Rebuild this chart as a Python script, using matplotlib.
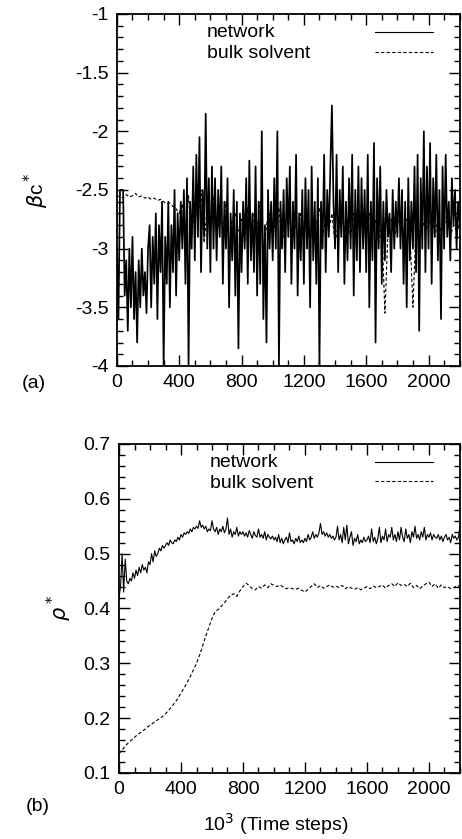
import matplotlib
matplotlib.use('Agg')
import matplotlib.pyplot as plt
import numpy as np
from matplotlib.ticker import MultipleLocator

plt.rcParams['font.family'] = ['Liberation Sans', 'DejaVu Sans']

# ---- panel (a): beta c*, sampled every 10 (network) / 20 (bulk) x 10^3 steps
t_net_a = np.arange(0, 2201, 10)
net_a = [
    -3.0, -3.6, -2.5, -2.5, -2.5, -3.4, -3.1, -3.7, -3.0, -3.5, -2.9, -3.6, -3.2, -3.8, -3.1, -3.5, -3.0, -3.4, -3.2, -3.55,
    -3.0, -2.8, -3.5, -2.9, -3.3, -2.7, -3.6, -2.8, -3.2, -2.6, -4.0, -2.9, -3.3, -2.6, -3.5, -2.8, -3.2, -2.5, -3.4, -2.7,
    -3.1, -2.6, -3.0, -2.5, -3.3, -2.4, -4.0, -2.6, -3.0, -2.3, -3.1, -2.2, -2.9, -2.05, -3.2, -2.5, -2.9, -1.85, -3.0, -2.4,
    -3.2, -2.3, -3.0, -2.4, -3.1, -2.5, -2.9, -2.3, -3.3, -2.6, -3.0, -2.4, -3.5, -2.7, -3.1, -2.5, -3.4, -2.6, -3.85, -2.7,
    -3.2, -2.6, -3.0, -2.4, -3.3, -2.25, -3.1, -2.7, -3.2, -2.3, -3.4, -2.6, -3.3, -2.0, -3.6, -2.8, -3.8, -2.5, -3.0, -2.6,
    -3.1, -2.4, -3.0, -2.0, -4.0, -2.6, -3.0, -2.5, -3.2, -2.4, -2.9, -2.3, -3.3, -2.6, -3.0, -2.2, -3.4, -2.7, -3.1, -2.5,
    -3.3, -2.4, -3.0, -2.5, -3.5, -2.3, -3.1, -2.6, -3.3, -2.4, -4.0, -2.6, -3.0, -2.2, -3.2, -2.5, -2.9, -2.3, -1.78, -2.6,
    -3.0, -2.2, -3.2, -2.5, -2.9, -2.3, -3.3, -2.6, -3.1, -2.4, -3.0, -2.2, -3.4, -2.5, -3.1, -2.3, -3.2, -2.4, -3.0, -2.5,
    -3.2, -2.2, -3.5, -2.6, -3.1, -2.1, -3.8, -2.4, -3.0, -2.3, -3.3, -2.6, -3.1, -2.5, -2.9, -2.7, -3.2, -2.5, -3.0, -2.6,
    -2.9, -2.4, -3.0, -2.5, -3.3, -2.6, -3.5, -2.4, -3.1, -2.6, -3.0, -2.3, -3.2, -2.2, -3.7, -2.4, -3.0, -2.0, -3.2, -2.3,
    -3.0, -2.1, -3.3, -2.4, -2.9, -2.2, -3.1, -2.5, -3.6, -2.3, -3.0, -2.2, -2.9, -2.6, -3.1, -2.4, -2.8, -2.5, -3.0, -2.6,
    -2.8,
]
t_bulk_a = np.arange(0, 2201, 20)
bulk_a = [
    -2.56, -2.55, -2.57, -2.54, -2.56, -2.55, -2.53, -2.56, -2.55, -2.57, -2.56, -2.58, -2.57, -2.59, -2.58, -2.60, -2.62, -2.61, -2.64, -2.66,
    -2.70, -2.62, -2.85, -2.55, -2.90, -2.60, -2.75, -2.50, -2.95, -2.65, -2.80, -2.55, -2.90, -2.70, -2.85, -2.60, -3.00, -2.75, -2.70, -2.85,
    -2.75, -2.95, -2.65, -2.90, -2.70, -2.85, -2.60, -3.05, -2.80, -2.70, -2.90, -2.75, -2.65, -2.95, -2.80, -2.70, -2.85, -2.75, -2.90, -2.70,
    -2.85, -2.70, -2.95, -2.75, -2.80, -2.65, -2.90, -2.75, -2.85, -2.70, -2.95, -2.80, -2.70, -2.85, -2.75, -2.90, -2.70, -2.85, -2.75, -2.80,
    -2.90, -2.70, -2.85, -2.75, -2.95, -2.80, -3.55, -2.85, -2.75, -2.90, -2.80, -2.70, -2.90, -2.75, -2.85, -3.50, -2.80, -2.90, -2.75, -2.85,
    -2.80, -2.70, -2.90, -2.75, -2.85, -2.80, -2.70, -2.90, -2.80, -2.85, -2.80,
]

# ---- panel (b): rho*
t_net_b = np.arange(0, 2201, 10)
net_b = [
    0.42, 0.44, 0.50, 0.43, 0.49, 0.45, 0.445, 0.455, 0.45, 0.465, 0.455, 0.47, 0.46, 0.475, 0.465, 0.48, 0.47, 0.475, 0.465, 0.485,
    0.48, 0.50, 0.485, 0.505, 0.495, 0.50, 0.51, 0.505, 0.515, 0.51, 0.515, 0.52, 0.515, 0.525, 0.52, 0.518, 0.525, 0.522, 0.53, 0.525,
    0.535, 0.53, 0.538, 0.535, 0.54, 0.537, 0.545, 0.54, 0.548, 0.545, 0.55, 0.546, 0.56, 0.548, 0.552, 0.545, 0.55, 0.54, 0.545, 0.542,
    0.56, 0.545, 0.54, 0.548, 0.535, 0.545, 0.54, 0.55, 0.538, 0.545, 0.565, 0.535, 0.545, 0.53, 0.54, 0.535, 0.548, 0.532, 0.54, 0.535,
    0.54, 0.532, 0.538, 0.53, 0.542, 0.535, 0.528, 0.54, 0.533, 0.53, 0.545, 0.53, 0.535, 0.528, 0.54, 0.525, 0.535, 0.53, 0.527, 0.532,
    0.525, 0.53, 0.522, 0.535, 0.52, 0.528, 0.518, 0.525, 0.53, 0.52, 0.538, 0.522, 0.525, 0.518, 0.528, 0.522, 0.532, 0.52, 0.525, 0.52,
    0.528, 0.522, 0.535, 0.525, 0.53, 0.54, 0.528, 0.535, 0.53, 0.538, 0.555, 0.535, 0.54, 0.532, 0.538, 0.53, 0.535, 0.528, 0.532, 0.525,
    0.53, 0.55, 0.525, 0.535, 0.52, 0.548, 0.525, 0.552, 0.518, 0.53, 0.54, 0.515, 0.528, 0.522, 0.535, 0.518, 0.525, 0.52, 0.53, 0.522,
    0.525, 0.532, 0.52, 0.545, 0.522, 0.53, 0.518, 0.528, 0.548, 0.52, 0.532, 0.525, 0.545, 0.522, 0.535, 0.53, 0.548, 0.525, 0.535, 0.522,
    0.54, 0.525, 0.548, 0.53, 0.522, 0.545, 0.528, 0.535, 0.52, 0.54, 0.53, 0.55, 0.528, 0.535, 0.525, 0.54, 0.53, 0.548, 0.525, 0.535,
    0.53, 0.538, 0.525, 0.535, 0.53, 0.528, 0.535, 0.525, 0.532, 0.522, 0.53, 0.535, 0.525, 0.53, 0.52, 0.535, 0.528, 0.532, 0.525, 0.53,
    0.55,
]
t_bulk_b = np.arange(0, 2201, 20)
bulk_b = [
    0.135, 0.142, 0.149, 0.155, 0.160, 0.165, 0.170, 0.174, 0.178, 0.183, 0.187, 0.191, 0.195, 0.199, 0.203, 0.208, 0.214, 0.221, 0.228, 0.236,
    0.246, 0.255, 0.265, 0.276, 0.288, 0.300, 0.315, 0.332, 0.350, 0.366, 0.382, 0.394, 0.398, 0.404, 0.410, 0.418, 0.424, 0.427, 0.422, 0.432,
    0.440, 0.446, 0.442, 0.436, 0.434, 0.440, 0.437, 0.443, 0.438, 0.445, 0.442, 0.440, 0.443, 0.439, 0.436, 0.438, 0.436, 0.435, 0.437, 0.433,
    0.430, 0.435, 0.440, 0.445, 0.438, 0.442, 0.437, 0.440, 0.443, 0.439, 0.441, 0.438, 0.442, 0.436, 0.440, 0.437, 0.435, 0.438, 0.434, 0.437,
    0.440, 0.436, 0.441, 0.438, 0.440, 0.443, 0.437, 0.442, 0.445, 0.440, 0.447, 0.442, 0.444, 0.440, 0.446, 0.438, 0.442, 0.436, 0.441, 0.445,
    0.448, 0.440, 0.445, 0.437, 0.443, 0.438, 0.440, 0.436, 0.438, 0.442, 0.440,
]

labels = ['network', 'bulk solvent']
FS = 14

fig = plt.figure(figsize=(4.62, 8.39), dpi=100)
ax1 = fig.add_axes([0.253, 0.5638, 0.742, 0.4196])
ax2 = fig.add_axes([0.2576, 0.0787, 0.738, 0.3921])


def style(ax, ymin, ymax, ymajor, yminor):
    ax.set_xlim(0, 2200)
    ax.set_ylim(ymin, ymax)
    ax.xaxis.set_major_locator(MultipleLocator(400))
    ax.xaxis.set_minor_locator(MultipleLocator(100))
    ax.yaxis.set_major_locator(MultipleLocator(ymajor))
    ax.yaxis.set_minor_locator(MultipleLocator(yminor))
    ax.tick_params(which='both', direction='in', top=True, right=True, labelsize=FS, width=1.0)
    ax.tick_params(which='major', length=8, pad=6)
    ax.tick_params(which='minor', length=4)
    for s in ax.spines.values():
        s.set_linewidth(1.3)


def add_legend(ax, ytop, xtext, ytexts):
    # legend keys on the right; its own (right-aligned) labels are hidden and
    # replaced by left-aligned texts like in the original
    leg = ax.legend(loc='upper right', bbox_to_anchor=(0.945, ytop), frameon=False, fontsize=FS,
                    markerfirst=False, handlelength=3.0, handletextpad=3.3, labelspacing=0.12,
                    borderaxespad=0.0)
    for h in leg.legend_handles:
        h.set_linewidth(0.8)
    for t in leg.get_texts():
        t.set_alpha(0)
    for lab, yy in zip(labels, ytexts):
        ax.text(xtext, yy, lab, transform=ax.transAxes, fontsize=FS, ha='left', va='center')


ax1.plot(t_net_a, net_a, color='black', lw=1.25, label=labels[0])
ax1.plot(t_bulk_a, bulk_a, color='black', lw=0.8, ls=(0, (3, 2)), label=labels[1])
style(ax1, -4, -1, 0.5, 0.1)
ax1.set_yticklabels([f'{v:g}' for v in ax1.get_yticks()])
ax1.set_ylabel(r'$\beta$c$^*$', fontsize=15, labelpad=17)
add_legend(ax1, 0.991, 0.262, [0.946, 0.889])
fig.text(0.048, 0.537, '(a)', fontsize=FS)

ax2.plot(t_net_b, net_b, color='black', lw=0.8, label=labels[0])
ax2.plot(t_bulk_b, bulk_b, color='black', lw=0.8, ls=(0, (3, 2)), label=labels[1])
style(ax2, 0.1, 0.7, 0.1, 0.02)
ax2.set_ylabel(r'$\rho^*$', fontsize=15, labelpad=7)
ax2.set_xlabel(r'10$^3$ (Time steps)', fontsize=FS, labelpad=1)
ax2.xaxis.set_label_coords(0.46, -0.115)
add_legend(ax2, 0.991, 0.267, [0.945, 0.881])
fig.text(0.055, 0.033, '(b)', fontsize=FS)

fig.savefig('out.png', dpi=100)
